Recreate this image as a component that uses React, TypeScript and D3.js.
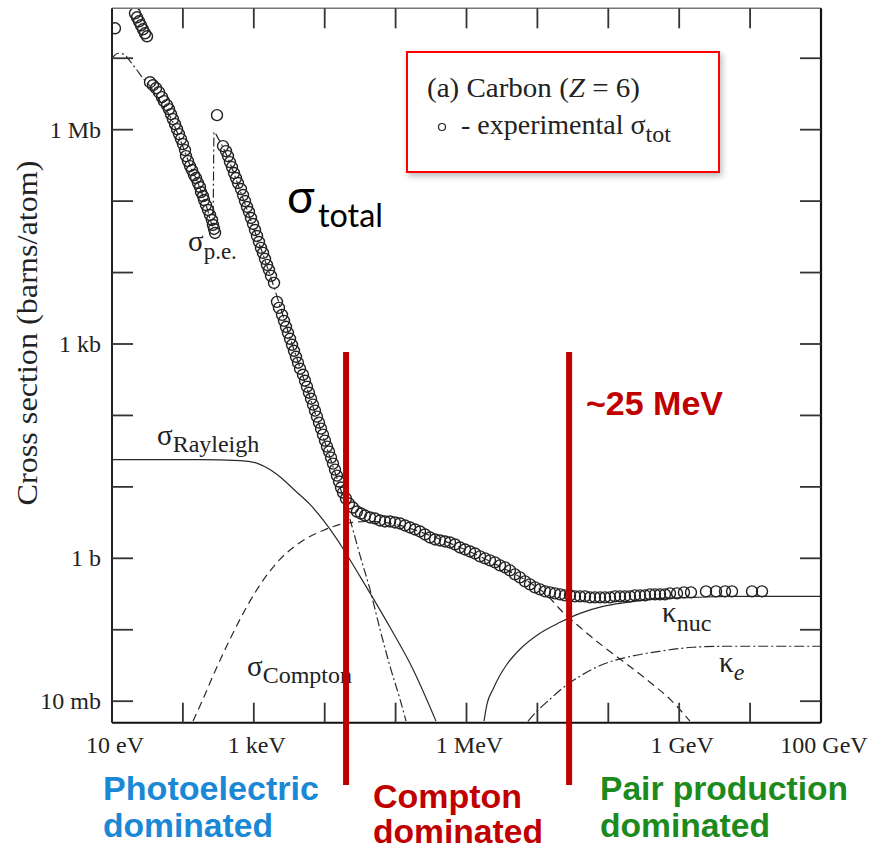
import React from 'react';
import * as d3 from 'd3';

// ---------- axis ticks & labels ----------
const xTickValues = [1e1, 1e2, 1e3, 1e4, 1e5, 1e6, 1e7, 1e8, 1e9, 1e10, 1e11];
const xLabelValues = [1e1, 1e3, 1e6, 1e9, 1e11];
const xLabelTexts = ['10 eV', '1 keV', '1 MeV', '1 GeV', '100 GeV'];
const yTickValues = [1e-2, 1e-1, 1e0, 1e1, 1e2, 1e3, 1e4, 1e5, 1e6, 1e7];
const yLabelValues = [1e-2, 1e0, 1e3, 1e6];
const yLabelTexts = ['10 mb', '1 b', '1 kb', '1 Mb'];

// ---------- experimental total cross section (log10 E[eV], log10 sigma[b]) ----------
const totalLogE = [
  1.042, 1.324, 1.353, 1.381, 1.409, 1.437, 1.465, 1.494,
  1.536, 1.578, 1.621, 1.663, 1.705, 1.733, 1.776, 1.804, 1.832, 1.860, 1.889, 1.917, 1.945, 1.973, 2.001, 2.030, 2.044,
  2.072, 2.100, 2.128, 2.157, 2.185, 2.213, 2.241, 2.255, 2.283, 2.298, 2.326, 2.354, 2.382, 2.410, 2.424, 2.439, 2.453,
  2.481,
  2.566, 2.608, 2.636, 2.664, 2.692, 2.721, 2.749, 2.777, 2.819, 2.848, 2.876, 2.904, 2.932, 2.960, 2.989, 3.017, 3.045,
  3.073, 3.101, 3.130, 3.158, 3.186, 3.214, 3.243, 3.285,
  3.327, 3.355, 3.398, 3.426, 3.454, 3.482, 3.511, 3.539, 3.567, 3.595, 3.623, 3.652, 3.694, 3.722, 3.750, 3.778, 3.807,
  3.835, 3.863, 3.891, 3.920, 3.948, 3.976, 4.004, 4.032, 4.061, 4.089, 4.117, 4.145, 4.173, 4.202, 4.230, 4.258, 4.300,
  4.343, 4.399, 4.455, 4.512, 4.568,
  4.639, 4.709, 4.780, 4.850, 4.921, 4.991, 5.062, 5.132, 5.203, 5.274, 5.344, 5.415, 5.485, 5.556, 5.626, 5.697, 5.767,
  5.838, 5.908, 5.979, 6.049, 6.120, 6.190, 6.261, 6.331, 6.402, 6.472, 6.543, 6.613, 6.684, 6.754, 6.825, 6.895, 6.966,
  7.036, 7.107, 7.178, 7.248, 7.319, 7.389, 7.460, 7.530, 7.601, 7.671, 7.742, 7.812, 7.883, 7.953, 8.024, 8.094, 8.165,
  8.235, 8.306, 8.376, 8.447, 8.517, 8.588, 8.658, 8.729, 8.799, 8.870,
  8.969, 9.067, 9.166, 9.378, 9.519, 9.646, 9.745, 10.027, 10.168,
];
const totalLogSigma = [
  7.419, 7.628, 7.573, 7.517, 7.461, 7.405, 7.349, 7.307,
  6.664, 6.622, 6.580, 6.524, 6.455, 6.399, 6.343, 6.287, 6.217, 6.147, 6.077, 6.007, 5.938, 5.868, 5.798, 5.714, 5.630,
  5.560, 5.490, 5.435, 5.365, 5.323, 5.253, 5.197, 5.127, 5.071, 5.015, 4.945, 4.876, 4.806, 4.736, 4.666, 4.610, 4.554,
  6.203,
  5.770, 5.700, 5.630, 5.546, 5.476, 5.393, 5.323, 5.253, 5.169, 5.085, 5.001, 4.918, 4.848, 4.764, 4.680, 4.596, 4.512,
  4.428, 4.345, 4.275, 4.191, 4.107, 4.037, 3.953, 3.855,
  3.590, 3.506, 3.408, 3.324, 3.241, 3.157, 3.073, 2.989, 2.905, 2.821, 2.738, 2.654, 2.570, 2.486, 2.402, 2.318, 2.234,
  2.151, 2.067, 1.983, 1.899, 1.815, 1.731, 1.648, 1.564, 1.494, 1.410, 1.326, 1.242, 1.158, 1.075, 0.991, 0.921, 0.837,
  0.767, 0.711, 0.655, 0.627, 0.599,
  0.572, 0.558, 0.530, 0.516, 0.516, 0.502, 0.488, 0.460, 0.432, 0.404, 0.376, 0.334, 0.292, 0.264, 0.250, 0.236, 0.222,
  0.194, 0.152, 0.124, 0.096, 0.068, 0.027, -0.001, -0.029, -0.057, -0.099, -0.127, -0.169, -0.225, -0.267, -0.323, -0.365, -0.407,
  -0.435, -0.463, -0.477, -0.491, -0.505, -0.519, -0.519, -0.533, -0.533, -0.533, -0.547, -0.547, -0.547, -0.547, -0.547,
  -0.533, -0.533, -0.533, -0.533, -0.519, -0.519, -0.519, -0.505, -0.505, -0.505, -0.505, -0.491,
  -0.491, -0.477, -0.477, -0.463, -0.463, -0.463, -0.463, -0.463, -0.463,
];

// ---------- theoretical components (log10 E[eV], log10 sigma[b]) ----------
const peLogE = [1.000, 1.085, 1.169, 1.254, 1.353, 1.437, 1.536, 1.677, 1.818, 1.959, 2.100, 2.241, 2.340, 2.424,
  2.439, 2.495, 2.664, 2.805, 2.946, 3.087, 3.228, 3.369, 3.511, 3.652, 3.793, 3.934, 4.075, 4.216, 4.357, 4.498, 4.639,
  4.780, 4.921, 5.062, 5.147];
const peLogSigma = [7.000, 7.070, 7.056, 6.958, 6.832, 6.720, 6.608, 6.399, 6.189, 5.868, 5.504, 5.183, 4.904, 4.652,
  5.965, 5.882, 5.532, 5.155, 4.764, 4.372, 3.967, 3.534, 3.087, 2.668, 2.248, 1.829, 1.410, 0.991, 0.544, 0.041, -0.435,
  -0.994, -1.511, -1.972, -2.279];

const rayleighLogE = [1.000, 2.241, 2.805, 3.059, 3.228, 3.398, 3.581, 3.793, 4.004, 4.258, 4.498, 4.921, 5.245, 5.570];
const rayleighLogSigma = [1.382, 1.382, 1.368, 1.326, 1.242, 1.117, 0.949, 0.754, 0.502, 0.138, -0.253, -0.966, -1.552, -2.279];

const comptonLogE = [2.142, 2.283, 2.453, 2.664, 2.904, 3.130, 3.369, 3.652, 3.976, 4.286, 4.639, 5.062, 5.485, 6.007,
  6.472, 6.994, 7.107, 7.361, 7.601, 7.925, 8.264, 8.588, 8.870, 9.152];
const comptonLogSigma = [-2.279, -1.972, -1.580, -1.133, -0.672, -0.309, -0.015, 0.222, 0.390, 0.488, 0.516, 0.460, 0.320,
  0.110, -0.113, -0.407, -0.491, -0.756, -0.966, -1.231, -1.483, -1.734, -1.972, -2.279];

const kNucLogE = [6.247, 6.289, 6.374, 6.472, 6.571, 6.754, 7.036, 7.319, 7.601, 7.925, 8.264, 8.729, 9.194, 9.673, 11.0];
const kNucLogSigma = [-2.279, -2.042, -1.832, -1.637, -1.483, -1.273, -1.049, -0.896, -0.770, -0.672, -0.616, -0.560, -0.547, -0.533, -0.533];

const kELogE = [6.867, 6.994, 7.178, 7.319, 7.601, 7.925, 8.264, 8.729, 9.194, 9.673, 11.0];
const kELogSigma = [-2.279, -2.140, -1.972, -1.846, -1.650, -1.483, -1.385, -1.301, -1.245, -1.231, -1.231];

// ---------- region dividers (eV) ----------
const dividerEnergies = [2.0e4, 2.8e7];

const SERIF = "'Liberation Serif', 'Times New Roman', serif";
const SANS = "'Liberation Sans', Arial, sans-serif";
const INK = '#2a2a2a';
const DARK_RED = '#c00000';

const X0 = 112, X1 = 821, Y0 = 8.3, Y1 = 722.7;

export default function App() {
  const x = d3.scaleLog().domain([10, 1e11]).range([X0, X1]);
  const y = d3.scaleLog().domain([5e-3, 5e7]).range([Y1, Y0]);

  const toPts = (le: number[], ls: number[]) => le.map((v, i) => [Math.pow(10, v), Math.pow(10, ls[i])] as [number, number]);
  const line = d3.line<[number, number]>().x(d => x(d[0])).y(d => y(d[1])).curve(d3.curveMonotoneX);

  const total = toPts(totalLogE, totalLogSigma);
  const curves = [
    { pts: toPts(peLogE, peLogSigma), dash: '9 3 2 3' },
    { pts: toPts(rayleighLogE, rayleighLogSigma), dash: undefined },
    { pts: toPts(comptonLogE, comptonLogSigma), dash: '8 5' },
    { pts: toPts(kNucLogE, kNucLogSigma), dash: undefined },
    { pts: toPts(kELogE, kELogSigma), dash: '10 3 2 3' },
  ];

  return (
    <svg width={879} height={850} style={{ position: 'absolute', left: 0, top: 0, background: '#fff' }}
      fontFamily={SERIF}>
      <defs>
        <clipPath id="plotClip">
          <rect x={X0} y={Y0} width={X1 - X0} height={Y1 - Y0} />
        </clipPath>
        <filter id="shadow" x="-10%" y="-10%" width="130%" height="140%">
          <feDropShadow dx="2" dy="3" stdDeviation="3" floodColor="#000" floodOpacity="0.28" />
        </filter>
      </defs>
      <rect x={0} y={0} width={879} height={850} fill="#fff" />

      {/* curves */}
      <g clipPath="url(#plotClip)" fill="none" stroke={INK} strokeWidth={1.2}>
        {curves.map((c, i) => (
          <path key={i} d={line(c.pts) || ''} strokeDasharray={c.dash} />
        ))}
      </g>

      {/* experimental points */}
      <g clipPath="url(#plotClip)" fill="none" stroke="#222" strokeWidth={1.4}>
        {total.map((d, i) => (
          <circle key={i} cx={x(d[0])} cy={y(d[1])} r={5.5} />
        ))}
      </g>

      {/* frame */}
      <line x1={X0} x2={X1} y1={Y0} y2={Y0} stroke="#777" strokeWidth={1.6} />
      <line x1={X0} x2={X1} y1={Y1} y2={Y1} stroke="#111" strokeWidth={2} />
      <line x1={X0} x2={X0} y1={Y0} y2={Y1} stroke="#222" strokeWidth={2} />
      <line x1={X1} x2={X1} y1={Y0} y2={Y1} stroke="#111" strokeWidth={2.2} />

      {/* ticks */}
      <g stroke="#333" strokeWidth={1.8}>
        {xTickValues.slice(1, -1).map((v, i) => (
          <g key={i}>
            <line x1={x(v)} x2={x(v)} y1={Y1} y2={Y1 - 20} />
            <line x1={x(v)} x2={x(v)} y1={Y0} y2={Y0 + 20} />
          </g>
        ))}
        {yTickValues.map((v, i) => (
          <g key={i}>
            <line x1={X0} x2={X0 + 21} y1={y(v)} y2={y(v)} />
            <line x1={X1} x2={X1 - 21} y1={y(v)} y2={y(v)} />
          </g>
        ))}
      </g>

      {/* tick labels */}
      <g fontSize={24} fill="#222">
        {xLabelValues.map((v, i) => (
          <text key={i} x={x(v) + 3} y={753} textAnchor="middle">{xLabelTexts[i]}</text>
        ))}
        {yLabelValues.map((v, i) => (
          <text key={i} x={101} y={y(v) + 8} textAnchor="end">{yLabelTexts[i]}</text>
        ))}
      </g>
      <text transform="translate(37,333) rotate(-90)" textAnchor="middle" fontSize={29} fill="#222"
        textLength={345} lengthAdjust="spacingAndGlyphs">
        Cross section  (barns/atom)
      </text>

      {/* curve labels */}
      <g fill="#222">
        <text x={188} y={251} fontSize={29}>σ<tspan fontSize={23} dy={8}>p.e.</tspan></text>
        <text x={157} y={445} fontSize={29}>σ<tspan fontSize={24} dy={7}>Rayleigh</tspan></text>
        <text x={247} y={676} fontSize={29}>σ<tspan fontSize={24} dy={7}>Compton</tspan></text>
        <text x={662} y={622} fontSize={29}>κ<tspan fontSize={24} dy={9}>nuc</tspan></text>
        <text x={719} y={672} fontSize={29}>κ<tspan fontSize={24} dy={8} fontStyle="italic">e</tspan></text>
      </g>

      {/* legend box */}
      <rect x={407} y={52} width={312} height={120} fill="#fff" stroke="#ff0000" strokeWidth={2} filter="url(#shadow)" />
      <text x={427} y={97} fontSize={28} fill="#222" textLength={213} lengthAdjust="spacingAndGlyphs">(a) Carbon (<tspan fontStyle="italic">Z</tspan> = 6)</text>
      <circle cx={442} cy={127} r={3.5} fill="none" stroke="#222" strokeWidth={1.2} />
      <text x={461} y={134} fontSize={28} fill="#222">- experimental σ<tspan fontSize={24} dy={8}>tot</tspan></text>

      {/* sigma total annotation */}
      <text x={287} y={213} fontFamily="Lato, 'Noto Sans', sans-serif" fontSize={46} fill="#000">σ</text>
      <text x={318} y={227} fontFamily="Lato, 'Noto Sans', sans-serif" fontSize={33} fill="#000" textLength={65} lengthAdjust="spacingAndGlyphs">total</text>

      {/* region dividers */}
      {dividerEnergies.map((e, i) => (
        <line key={i} x1={x(e)} x2={x(e)} y1={352} y2={785} stroke={DARK_RED} strokeWidth={6} />
      ))}
      <text x={586} y={415} fontFamily={SANS} fontWeight="bold" fontSize={34} fill={DARK_RED}>~25 MeV</text>

      {/* region captions */}
      <g fontFamily={SANS} fontWeight="bold" fontSize={34}>
        <text x={103} y={800} fill="#1a88d4" textLength={216} lengthAdjust="spacingAndGlyphs">Photoelectric</text>
        <text x={103} y={837} fill="#1a88d4" textLength={170} lengthAdjust="spacingAndGlyphs">dominated</text>
        <text x={373} y={808} fill={DARK_RED} textLength={149} lengthAdjust="spacingAndGlyphs">Compton</text>
        <text x={373} y={843} fill={DARK_RED} textLength={170} lengthAdjust="spacingAndGlyphs">dominated</text>
        <text x={600} y={800} fill="#1c8a1c" textLength={248} lengthAdjust="spacingAndGlyphs">Pair production</text>
        <text x={600} y={837} fill="#1c8a1c" textLength={170} lengthAdjust="spacingAndGlyphs">dominated</text>
      </g>
    </svg>
  );
}
